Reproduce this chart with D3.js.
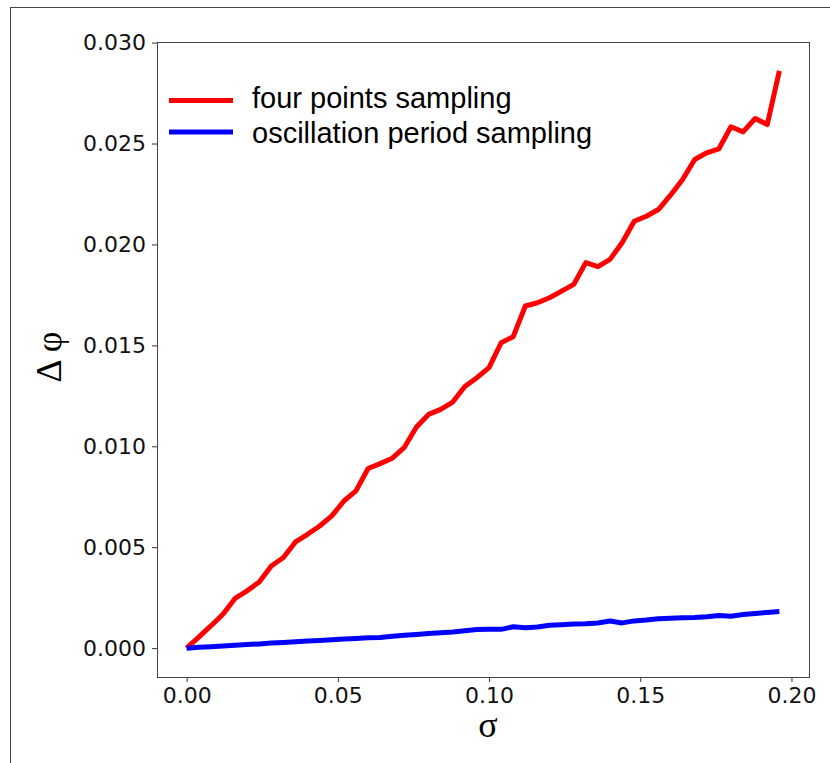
<!DOCTYPE html>
<html>
<head>
<meta charset="utf-8">
<script src="https://cdn.jsdelivr.net/npm/d3@7"></script>
<style>
  html, body { margin: 0; padding: 0; background: #fff; }
  svg { display: block; }
</style>
</head>
<body>
<svg id="chart" width="830" height="763"></svg>
<script>
// sigma values (noise level) shared by both series
const sigma = [
  0.000, 0.004, 0.008, 0.012, 0.016, 0.020, 0.024, 0.028, 0.032, 0.036,
  0.040, 0.044, 0.048, 0.052, 0.056, 0.060, 0.064, 0.068, 0.072, 0.076,
  0.080, 0.084, 0.088, 0.092, 0.096, 0.100, 0.104, 0.108, 0.112, 0.116,
  0.120, 0.124, 0.128, 0.132, 0.136, 0.140, 0.144, 0.148, 0.152, 0.156,
  0.160, 0.164, 0.168, 0.172, 0.176, 0.180, 0.184, 0.188, 0.192, 0.196
];

// phase error, four points sampling
const fourPoints = [
  0.00000, 0.00055, 0.00110, 0.00168, 0.00246, 0.00284, 0.00328, 0.00407, 0.00449, 0.00526,
  0.00564, 0.00605, 0.00655, 0.00729, 0.00779, 0.00890, 0.00914, 0.00941, 0.00995, 0.01096,
  0.01158, 0.01183, 0.01219, 0.01296, 0.01340, 0.01390, 0.01513, 0.01543, 0.01695, 0.01711,
  0.01736, 0.01769, 0.01802, 0.01910, 0.01890, 0.01926, 0.02008, 0.02115, 0.02140, 0.02173,
  0.02244, 0.02322, 0.02421, 0.02454, 0.02474, 0.02583, 0.02558, 0.02624, 0.02594, 0.02860
];

// phase error, oscillation period sampling
const periodSampling = [
  0.00000, 0.00004, 0.00007, 0.00011, 0.00014, 0.00018, 0.00021, 0.00025, 0.00028, 0.00032,
  0.00035, 0.00038, 0.00042, 0.00045, 0.00048, 0.00051, 0.00053, 0.00059, 0.00064, 0.00068,
  0.00072, 0.00076, 0.00080, 0.00086, 0.00092, 0.00093, 0.00093, 0.00106, 0.00101, 0.00105,
  0.00113, 0.00116, 0.00119, 0.00121, 0.00125, 0.00134, 0.00125, 0.00135, 0.00139, 0.00146,
  0.00148, 0.00150, 0.00152, 0.00156, 0.00162, 0.00158, 0.00167, 0.00172, 0.00177, 0.00182
];

const seriesNames = ["four points sampling", "oscillation period sampling"];
const seriesColors = ["#ff0000", "#0000ff"];

const xTicks = [0.00, 0.05, 0.10, 0.15, 0.20];
const xTickLabels = ["0.00", "0.05", "0.10", "0.15", "0.20"];
const yTicks = [0.000, 0.005, 0.010, 0.015, 0.020, 0.025, 0.030];
const yTickLabels = ["0.000", "0.005", "0.010", "0.015", "0.020", "0.025", "0.030"];

const xLabel = "σ";
const yLabel = "Δ φ";

// ---- layout ----
const svg = d3.select("#chart");
const plot = { left: 157, right: 809, top: 42, bottom: 677 };

// outer frame
svg.append("rect")
  .attr("x", 10.5).attr("y", 7.5)
  .attr("width", 840).attr("height", 780)
  .attr("fill", "none").attr("stroke", "#444").attr("stroke-width", 1);

// padded extents (5% margins on each side)
function padded(values) {
  const [lo, hi] = d3.extent(values);
  const m = (hi - lo) * 0.05;
  return [lo - m, hi + m];
}

const x = d3.scaleLinear().domain(padded(sigma)).range([plot.left, plot.right]);
const y = d3.scaleLinear()
  .domain(padded(fourPoints.concat(periodSampling)))
  .range([plot.bottom, plot.top]);

// axes
const tickFont = "DejaVu Sans, sans-serif";

const xAxis = d3.axisBottom(x)
  .tickValues(xTicks)
  .tickFormat((d, i) => xTickLabels[i])
  .tickSize(5).tickPadding(5).tickSizeOuter(0);

const yAxis = d3.axisLeft(y)
  .tickValues(yTicks)
  .tickFormat((d, i) => yTickLabels[i])
  .tickSize(5).tickPadding(6).tickSizeOuter(0);

const gx = svg.append("g").attr("transform", `translate(0,${plot.bottom})`).call(xAxis);
const gy = svg.append("g").attr("transform", `translate(${plot.left},0)`).call(yAxis);

[gx, gy].forEach(g => {
  g.select(".domain").remove();
  g.selectAll(".tick line").attr("stroke", "#333").attr("stroke-width", 1);
  g.selectAll(".tick text")
    .attr("fill", "#111")
    .style("font-family", tickFont)
    .style("font-size", "22px");
});

// plot frame (spines)
svg.append("rect")
  .attr("x", plot.left + 0.5).attr("y", plot.top + 0.5)
  .attr("width", plot.right - plot.left).attr("height", plot.bottom - plot.top)
  .attr("fill", "none").attr("stroke", "#444").attr("stroke-width", 1);

// clip lines to plot area
svg.append("clipPath").attr("id", "plotClip")
  .append("rect")
  .attr("x", plot.left).attr("y", plot.top)
  .attr("width", plot.right - plot.left).attr("height", plot.bottom - plot.top);

const line = d3.line()
  .x(d => x(d[0]))
  .y(d => y(d[1]));

const series = [fourPoints, periodSampling];
series.forEach((vals, k) => {
  svg.append("path")
    .datum(sigma.map((s, i) => [s, vals[i]]))
    .attr("clip-path", "url(#plotClip)")
    .attr("d", line)
    .attr("fill", "none")
    .attr("stroke", seriesColors[k])
    .attr("stroke-width", 5)
    .attr("stroke-linejoin", "round")
    .attr("stroke-linecap", "butt");
});

// legend
const legendRows = [
  { lineY: 100.5, textY: 108 },
  { lineY: 132, textY: 143 }
];
seriesNames.forEach((name, k) => {
  svg.append("line")
    .attr("x1", 169).attr("x2", 233)
    .attr("y1", legendRows[k].lineY).attr("y2", legendRows[k].lineY)
    .attr("stroke", seriesColors[k]).attr("stroke-width", 5);
  svg.append("text")
    .attr("x", 252).attr("y", legendRows[k].textY)
    .attr("fill", "#000")
    .style("font-family", "Liberation Sans, Arial, sans-serif")
    .style("font-size", "29px")
    .text(name);
});

// axis titles
svg.append("text")
  .attr("x", 488).attr("y", 737)
  .attr("text-anchor", "middle")
  .attr("fill", "#000")
  .style("font-family", "Liberation Serif, Times New Roman, serif")
  .style("font-size", "36px")
  .text(xLabel);

svg.append("text")
  .attr("transform", "translate(61,357) rotate(-90)")
  .attr("text-anchor", "middle")
  .attr("fill", "#000")
  .style("font-family", "Liberation Serif, Times New Roman, serif")
  .style("font-size", "36px")
  .text(yLabel);
</script>
</body>
</html>
